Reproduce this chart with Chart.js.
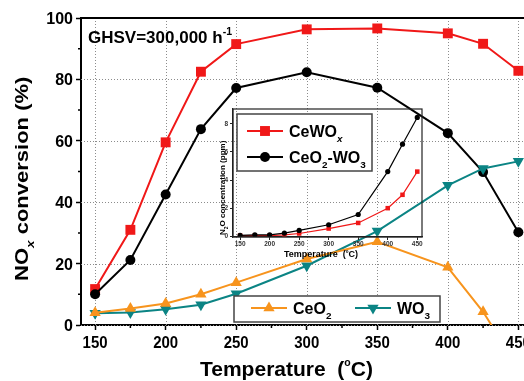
<!DOCTYPE html>
<html>
<head>
<meta charset="utf-8">
<script src="https://cdn.jsdelivr.net/npm/chart.js@4.4.1/dist/chart.umd.min.js"></script>
<style>
  html, body { margin: 0; padding: 0; background: #fff; }
  #wrap { position: relative; width: 524px; height: 381px; }
  #main { position: absolute; left: 0; top: 0; }
  #inset { position: absolute; left: 200px; top: 100px; }
</style>
</head>
<body>
<div id="wrap">
  <canvas id="main" width="524" height="381"></canvas>
  <canvas id="inset" width="240" height="170"></canvas>
</div>
<script>
// temperatures (°C)
const temps = [150, 175, 200, 225, 250, 300, 350, 400, 425, 450];
// NOx conversion (%)
const ceWOx = [11.7, 31, 59.5, 82.5, 91.5, 96.3, 96.6, 95, 91.6, 82.8];
const ceO2WO3 = [10, 21.2, 42.5, 63.8, 77.2, 82.3, 77.3, 62.5, 49.8, 30.2];
const ceO2 = [4, 5.4, 7, 10, 13.8, 21.5, 27.1, 18.8, 4.3, -14];
const wo3 = [3.8, 4.1, 5.1, 6.6, 10.2, 19.3, 30.6, 45.5, 51, 53.3];
// inset: N2O concentration (ppm)
const n2oCeWOx = [0.05, 0.05, 0.05, 0.1, 0.2, 0.55, 0.95, 2.0, 2.95, 4.6];
const n2oCeO2WO3 = [0.06, 0.1, 0.1, 0.23, 0.42, 0.82, 1.55, 4.6, 6.55, 8.45];

const xTicks = [150, 200, 250, 300, 350, 400, 450];
const xMinor = [175, 225, 275, 325, 375, 425];
const yTicks = [0, 20, 40, 60, 80, 100];
const yMinor = [10, 30, 50, 70, 90];
const insetXTicks = [150, 200, 250, 300, 350, 400, 450];
const insetYTicks = [0, 2, 4, 6, 8];

const RED = '#f01818', BLACK = '#000', ORANGE = '#f7941d', TEAL = '#0b8484';
const FONT = '"Liberation Sans", Arial, sans-serif';

const pts = (ys) => temps.map((t, i) => ({ x: t, y: ys[i] }));

// texte avec indices / exposants
function rich(ctx, parts, x, y, size) {
    let cx = x;
    parts.forEach(([t, m]) => {
        m = m || '';
        const s = m === 'deg' ? size * 0.5 : m ? size * 0.62 : size;
        ctx.font = (m.includes('i') ? 'italic ' : '') + 'bold ' + s + 'px ' + FONT;
        let dy = 0;
        if (m.startsWith('sub')) dy = size * 0.32;
        if (m.startsWith('sup')) dy = -size * 0.45;
        if (m === 'deg') dy = -size * 0.5;
        ctx.fillText(t, cx, y + dy);
        cx += ctx.measureText(t).width;
    });
    return cx - x;
}

function marker(ctx, style, x, y, r, color) {
    ctx.save();
    ctx.fillStyle = color;
    ctx.beginPath();
    if (style === 'rect') {
        const h = r * Math.SQRT1_2;
        ctx.rect(x - h, y - h, 2 * h, 2 * h);
    } else if (style === 'circle') {
        ctx.arc(x, y, r, 0, Math.PI * 2);
    } else {
        const s = style === 'down' ? -1 : 1;
        for (let k = 0; k < 3; k++) {
            const a = k * 2 * Math.PI / 3;
            const px = x + Math.sin(a) * r, py = y - s * Math.cos(a) * r;
            k ? ctx.lineTo(px, py) : ctx.moveTo(px, py);
        }
        ctx.closePath();
    }
    ctx.fill();
    ctx.restore();
}

function legendItem(ctx, x, y, color, style, r, label) {
    ctx.save();
    ctx.strokeStyle = color;
    ctx.lineWidth = 2;
    ctx.beginPath();
    ctx.moveTo(x, y);
    ctx.lineTo(x + 36, y);
    ctx.stroke();
    marker(ctx, style, x + 18, y, r, color);
    ctx.fillStyle = '#000';
    ctx.textBaseline = 'alphabetic';
    ctx.textAlign = 'left';
    rich(ctx, label, x + 42, y + 6, 16);
    ctx.restore();
}

const mainDecor = {
    id: 'mainDecor',
    beforeDatasetsDraw(chart) {
        // grille pointillee
        const ctx = chart.ctx, a = chart.chartArea;
        const xs = chart.scales.x, ys = chart.scales.y;
        ctx.save();
        ctx.strokeStyle = '#8c8c8c';
        ctx.lineWidth = 1;
        ctx.setLineDash([1, 2]);
        xTicks.forEach(v => {
            const px = Math.round(xs.getPixelForValue(v)) + 0.5;
            ctx.beginPath();
            ctx.moveTo(px, a.top); ctx.lineTo(px, a.bottom);
            ctx.stroke();
        });
        yTicks.forEach(v => {
            const py = Math.round(ys.getPixelForValue(v)) + 0.5;
            ctx.beginPath();
            ctx.moveTo(a.left, py); ctx.lineTo(a.right, py);
            ctx.stroke();
        });
        ctx.restore();
    },
    afterDraw(chart) {
        const ctx = chart.ctx, a = chart.chartArea;
        const xs = chart.scales.x, ys = chart.scales.y;
        ctx.save();
        // cadre du haut
        ctx.strokeStyle = '#000';
        ctx.lineWidth = 2;
        ctx.beginPath();
        ctx.moveTo(a.left - 1, a.top);
        ctx.lineTo(a.right, a.top);
        ctx.stroke();
        // petites graduations
        ctx.lineWidth = 1.5;
        ctx.beginPath();
        xMinor.forEach(v => {
            const px = xs.getPixelForValue(v);
            ctx.moveTo(px, a.bottom); ctx.lineTo(px, a.bottom + 3);
        });
        yMinor.forEach(v => {
            const py = ys.getPixelForValue(v);
            ctx.moveTo(a.left, py); ctx.lineTo(a.left - 3, py);
        });
        ctx.stroke();

        // etiquettes des graduations
        ctx.fillStyle = '#000';
        ctx.textAlign = 'center';
        ctx.textBaseline = 'alphabetic';
        ctx.font = 'bold 15px ' + FONT;
        xTicks.forEach(v => {
            const px = xs.getPixelForValue(v);
            ctx.save();
            ctx.translate(px, 348);
            ctx.scale(1, 1.1);
            ctx.fillText(String(v), 0, 0);
            ctx.restore();
        });
        ctx.textAlign = 'right';
        ctx.font = 'bold 16px ' + FONT;
        yTicks.forEach(v => {
            const py = ys.getPixelForValue(v);
            ctx.fillText(String(v), a.left - 8, py + 6);
        });

        // titres des axes
        ctx.textAlign = 'left';
        rich(ctx, [['Temperature  ('], ['o', 'deg'], ['C)']], 200, 376, 21);
        ctx.save();
        ctx.translate(28, 281);
        ctx.rotate(-Math.PI / 2);
        ctx.scale(1, 0.85);
        rich(ctx, [['NO'], ['x', 'subi'], [' conversion (%)']], 0, 0, 22);
        ctx.restore();

        // GHSV
        rich(ctx, [['GHSV=300,000 h'], ['-1', 'sup']], 88, 43, 17);

        // legendes
        ctx.fillStyle = '#fff';
        ctx.strokeStyle = '#444';
        ctx.lineWidth = 1.5;
        ctx.fillRect(237, 114, 135, 57);
        ctx.strokeRect(237, 114, 135, 57);
        ctx.fillRect(234, 296, 206, 26);
        ctx.strokeRect(234, 296, 206, 26);
        legendItem(ctx, 247, 131, RED, 'rect', 7, [['CeWO'], ['x', 'subi']]);
        legendItem(ctx, 247, 157, BLACK, 'circle', 5, [['CeO'], ['2', 'sub'], ['-WO'], ['3', 'sub']]);
        legendItem(ctx, 251, 308, ORANGE, 'up', 6.5, [['CeO'], ['2', 'sub']]);
        legendItem(ctx, 355, 308, TEAL, 'down', 6.5, [['WO'], ['3', 'sub']]);
        ctx.restore();
    }
};

new Chart(document.getElementById('main').getContext('2d'), {
    type: 'line',
    data: {
        datasets: [
            { data: pts(ceO2), borderColor: ORANGE, backgroundColor: ORANGE, pointStyle: 'triangle', pointRadius: 6.5,
              clip: { left: 10, right: 10, top: 10, bottom: 0 } },
            { data: pts(wo3), borderColor: TEAL, backgroundColor: TEAL, pointStyle: 'triangle', pointRotation: 180, pointRadius: 6.5 },
            { data: pts(ceO2WO3), borderColor: BLACK, backgroundColor: BLACK, pointStyle: 'circle', pointRadius: 5 },
            { data: pts(ceWOx), borderColor: RED, backgroundColor: RED, pointStyle: 'rect', pointRadius: 7 }
        ]
    },
    options: {
        responsive: false,
        animation: false,
        events: [],
        elements: { line: { borderWidth: 2, tension: 0 }, point: { borderWidth: 0 } },
        layout: { autoPadding: false, padding: { top: 18, right: 0, bottom: 0, left: 0 } },
        plugins: { legend: { display: false }, tooltip: { enabled: false } },
        scales: {
            x: {
                type: 'linear', min: 140, max: 454,
                afterBuildTicks: s => { s.ticks = xTicks.map(v => ({ value: v })); },
                afterFit: s => { s.height = 56; s.paddingLeft = 0; s.paddingRight = 0; },
                ticks: { display: false },
                grid: { drawOnChartArea: false, tickColor: '#000', tickLength: 5, tickWidth: 1.5 },
                border: { color: '#000', width: 2 }
            },
            y: {
                min: 0, max: 100,
                afterBuildTicks: s => { s.ticks = yTicks.map(v => ({ value: v })); },
                afterFit: s => { s.width = 81; s.paddingTop = 0; s.paddingBottom = 0; },
                ticks: { display: false },
                grid: { drawOnChartArea: false, tickColor: '#000', tickLength: 5, tickWidth: 1.5 },
                border: { color: '#000', width: 2 }
            }
        }
    },
    plugins: [mainDecor]
});

// encart
const insetDecor = {
    id: 'insetDecor',
    afterDraw(chart) {
        const ctx = chart.ctx, a = chart.chartArea;
        const xs = chart.scales.x, ys = chart.scales.y;
        ctx.save();
        ctx.strokeStyle = '#222';
        ctx.lineWidth = 1.2;
        ctx.strokeRect(a.left, a.top, a.right - a.left, a.bottom - a.top);
        ctx.fillStyle = '#333';
        ctx.font = 'bold 6.5px ' + FONT;
        ctx.textAlign = 'center';
        insetXTicks.forEach(v => ctx.fillText(String(v), xs.getPixelForValue(v), a.bottom + 9));
        ctx.textAlign = 'right';
        insetYTicks.forEach(v => ctx.fillText(String(v), a.left - 5, ys.getPixelForValue(v) + 2));
        ctx.fillStyle = '#000';
        ctx.textAlign = 'left';
        rich(ctx, [['Temperature  ('], ['o', 'deg'], ['C)']], 84, 157, 9);
        ctx.save();
        ctx.translate(25, 135);
        ctx.rotate(-Math.PI / 2);
        rich(ctx, [['N'], ['2', 'sub'], ['O concentration (ppm)']], 0, 0, 8);
        ctx.restore();
        ctx.restore();
    }
};

new Chart(document.getElementById('inset').getContext('2d'), {
    type: 'line',
    data: {
        datasets: [
            { data: pts(n2oCeO2WO3), borderColor: BLACK, backgroundColor: BLACK, pointStyle: 'circle', pointRadius: 2.6 },
            { data: pts(n2oCeWOx), borderColor: RED, backgroundColor: RED, pointStyle: 'rect', pointRadius: 3.2 }
        ]
    },
    options: {
        responsive: false,
        animation: false,
        events: [],
        elements: { line: { borderWidth: 1.2, tension: 0 }, point: { borderWidth: 0 } },
        layout: { autoPadding: false, padding: { top: 9, right: 18, bottom: 0, left: 0 } },
        plugins: { legend: { display: false }, tooltip: { enabled: false } },
        scales: {
            x: {
                type: 'linear', min: 138, max: 458,
                afterBuildTicks: s => { s.ticks = insetXTicks.map(v => ({ value: v })); },
                afterFit: s => { s.height = 33; s.paddingLeft = 0; s.paddingRight = 0; },
                ticks: { display: false },
                grid: { drawOnChartArea: false, tickColor: '#222', tickLength: 3, tickWidth: 1 },
                border: { color: '#222', width: 1.2 }
            },
            y: {
                min: -0.05, max: 9.05,
                afterBuildTicks: s => { s.ticks = insetYTicks.map(v => ({ value: v })); },
                afterFit: s => { s.width = 33; s.paddingTop = 0; s.paddingBottom = 0; },
                ticks: { display: false },
                grid: { drawOnChartArea: false, tickColor: '#222', tickLength: 3, tickWidth: 1 },
                border: { color: '#222', width: 1.2 }
            }
        }
    },
    plugins: [insetDecor]
});
</script>
</body>
</html>
